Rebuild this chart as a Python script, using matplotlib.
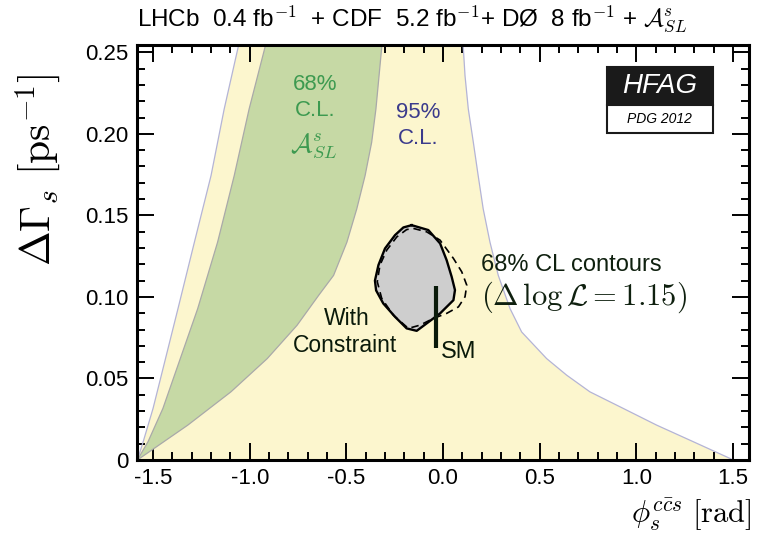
import matplotlib
matplotlib.use("Agg")
import matplotlib.pyplot as plt
from matplotlib.patches import Rectangle
import numpy as np

plt.rcParams['font.family'] = ['Liberation Sans', 'DejaVu Sans']
plt.rcParams['mathtext.fontset'] = 'cm'

# 95% CL band (A_SL), outer boundaries
outer_left_x = [-1.581, -1.551, -1.5, -1.457, -1.371, -1.286, -1.200, -1.132, -1.060, -1.045]
outer_left_y = [0.0, 0.0112, 0.0316, 0.052, 0.0928, 0.1336, 0.1744, 0.2152, 0.253, 0.262]
outer_right_x = [0.101, 0.105, 0.114, 0.131, 0.157, 0.182, 0.208, 0.243, 0.286, 0.347, 0.407,
                 0.536, 0.640, 0.760, 0.933, 1.105, 1.295, 1.484, 1.5]
outer_right_y = [0.262, 0.253, 0.2356, 0.2152, 0.1948, 0.1744, 0.154, 0.1336, 0.1132, 0.0928, 0.0785,
                 0.0622, 0.052, 0.0418, 0.0316, 0.0214, 0.0112, 0.001, 0.0]

# 68% CL band (A_SL)
green_left_x = [-1.581, -1.526, -1.449, -1.389, -1.269, -1.166, -1.080, -1.003, -0.921, -0.905]
green_left_y = [0.0, 0.0112, 0.0316, 0.052, 0.0928, 0.1336, 0.1744, 0.2152, 0.253, 0.262]
green_right_x = [-1.581, -1.320, -1.097, -0.909, -0.755, -0.643, -0.566, -0.497, -0.446,
                 -0.403, -0.369, -0.347, -0.317, -0.312]
green_right_y = [0.0, 0.0214, 0.0418, 0.0622, 0.0826, 0.101, 0.1132, 0.1336, 0.154,
                 0.1744, 0.1948, 0.2152, 0.253, 0.262]

# 68% CL contour with constraint (solid) and without (dashed)
solid_x = [-0.162, -0.076, -0.015, 0.019, 0.045, 0.062, 0.054, -0.015, -0.084, -0.136, -0.188,
           -0.248, -0.309, -0.346, -0.352, -0.334, -0.300, -0.248, -0.205, -0.162]
solid_y = [0.144, 0.141, 0.1328, 0.1225, 0.1123, 0.1042, 0.098, 0.0899, 0.0838, 0.0792, 0.0807,
           0.0878, 0.096, 0.104, 0.110, 0.1195, 0.1297, 0.1379, 0.1426, 0.144]
dashed_x = [-0.153, -0.084, -0.015, 0.054, 0.097, 0.123, 0.114, 0.080, 0.019, -0.050, -0.119, -0.179,
            -0.257, -0.317, -0.340, -0.326, -0.291, -0.239, -0.188, -0.153]
dashed_y = [0.142, 0.1399, 0.1348, 0.1236, 0.1154, 0.1072, 0.1001, 0.0939, 0.0899, 0.0868, 0.0827, 0.0807,
            0.0888, 0.0991, 0.1093, 0.1195, 0.1287, 0.1368, 0.1413, 0.142]

# Standard Model prediction
sm_phi = -0.036
sm_dg = [0.0686, 0.107]

xticks = [-1.5, -1.0, -0.5, 0.0, 0.5, 1.0, 1.5]
xticklabels = ['-1.5', '-1.0', '-0.5', '0.0', '0.5', '1.0', '1.5']
yticks = [0, 0.05, 0.10, 0.15, 0.20, 0.25]
yticklabels = ['0', '0.05', '0.10', '0.15', '0.20', '0.25']

fig = plt.figure(figsize=(7.59, 5.38), dpi=100)
ax = fig.add_axes([0.1805, 0.145, 0.8063, 0.7714])

yellow = '#fcf6ce'
green = '#c6d9a5'

# yellow 95% band
ax.fill(np.concatenate([outer_left_x, outer_right_x]),
        np.concatenate([outer_left_y, outer_right_y]), color=yellow, lw=0, zorder=1)
ax.plot(outer_left_x, outer_left_y, color='#b4b4d6', lw=0.9, zorder=2)
ax.plot(outer_right_x, outer_right_y, color='#b4b4d6', lw=0.9, zorder=2)

# green 68% band
ax.fill(np.concatenate([green_left_x, green_right_x[::-1]]),
        np.concatenate([green_left_y, green_right_y[::-1]]), color=green, lw=0, zorder=3)
ax.plot(green_left_x, green_left_y, color='#a9a9a9', lw=0.9, zorder=4)
ax.plot(green_right_x, green_right_y, color='#a9a9a9', lw=0.9, zorder=4)

# contours
ax.fill(solid_x, solid_y, color='#cecece', lw=0, zorder=5)
ax.plot(dashed_x, dashed_y, color='black', lw=1.2, ls=(0, (4.5, 3)), zorder=6)
ax.plot(solid_x, solid_y, color='black', lw=1.7, zorder=7)

# SM
ax.plot([sm_phi, sm_phi], sm_dg, color='#0a1a0a', lw=3, solid_capstyle='butt', zorder=8)

ax.set_xlim(-1.583, 1.583)
ax.set_ylim(0, 0.2545)
ax.set_xticks(xticks)
ax.set_xticklabels(xticklabels)
ax.set_yticks(yticks)
ax.set_yticklabels(yticklabels)
ax.set_xticks(np.arange(-1.5, 1.51, 0.1), minor=True)
ax.set_yticks(np.arange(0, 0.251, 0.01), minor=True)
ax.tick_params(which='both', direction='in', top=True, right=True, labelsize=16, width=1.4, pad=6)
ax.tick_params(which='major', length=12)
ax.tick_params(which='minor', length=6)
for s in ax.spines.values():
    s.set_linewidth(2.2)
    s.set_zorder(20)

# labels inside the plot
ax.text(-0.662, 0.230, '68%', color='#3d9a50', fontsize=16, ha='center', va='center', zorder=10)
ax.text(-0.662, 0.2145, 'C.L.', color='#3d9a50', fontsize=16, ha='center', va='center', zorder=10)
ax.text(-0.67, 0.192, r'$\mathcal{A}^s_{SL}$', color='#3d9a50', fontsize=19, ha='center', va='center', zorder=10)
ax.text(-0.129, 0.213, '95%', color='#3b3b8c', fontsize=16, ha='center', va='center', zorder=10)
ax.text(-0.129, 0.197, 'C.L.', color='#3b3b8c', fontsize=16, ha='center', va='center', zorder=10)

ax.text(0.197, 0.1195, '68% CL contours', color='#0f200f', fontsize=17, ha='left', va='center', zorder=10)
ax.text(0.195, 0.0995, r'$(\Delta\,\log\mathcal{L} = 1.15)$', color='#0f200f', fontsize=22,
        ha='left', va='center', zorder=10)
ax.text(-0.496, 0.087, 'With', color='#0a1a0a', fontsize=16.5, ha='center', va='center', zorder=10)
ax.text(-0.507, 0.0705, 'Constraint', color='#0a1a0a', fontsize=16.5, ha='center', va='center', zorder=10)
ax.text(-0.012, 0.066, 'SM', color='#0a1a0a', fontsize=17, ha='left', va='center', zorder=10)

# HFAG logo
ax.add_patch(Rectangle((0.7675, 0.855), 0.1732, 0.093, transform=ax.transAxes,
                       facecolor='#1a1a1a', edgecolor='#1a1a1a', lw=1.5, zorder=15))
ax.add_patch(Rectangle((0.7675, 0.787), 0.1732, 0.068, transform=ax.transAxes,
                       facecolor='white', edgecolor='#1a1a1a', lw=1.5, zorder=15))
ax.text(0.854, 0.901, 'HFAG', transform=ax.transAxes, color='white', fontsize=20, style='italic',
        ha='center', va='center', zorder=16)
ax.text(0.854, 0.821, 'PDG 2012', transform=ax.transAxes, color='black', fontsize=10, style='italic',
        ha='center', va='center', zorder=16)

# title and axis labels
fig.text(0.181, 0.966, r'LHCb  0.4 fb$^{-1}$  + CDF  5.2 fb$^{-1}$+ DØ  8 fb$^{-1}$ + $\mathcal{A}^s_{SL}$',
         fontsize=17.5, ha='left', va='center')
fig.text(0.05, 0.684, r'$\Delta\Gamma_s\ [\mathrm{ps}^{-1}]$', fontsize=30, rotation=90,
         ha='center', va='center')
fig.text(0.99, 0.043, r'$\phi_s^{c\bar{c}s}\ [\mathrm{rad}]$', fontsize=22, ha='right', va='center')

fig.savefig('out.png', dpi=100)
